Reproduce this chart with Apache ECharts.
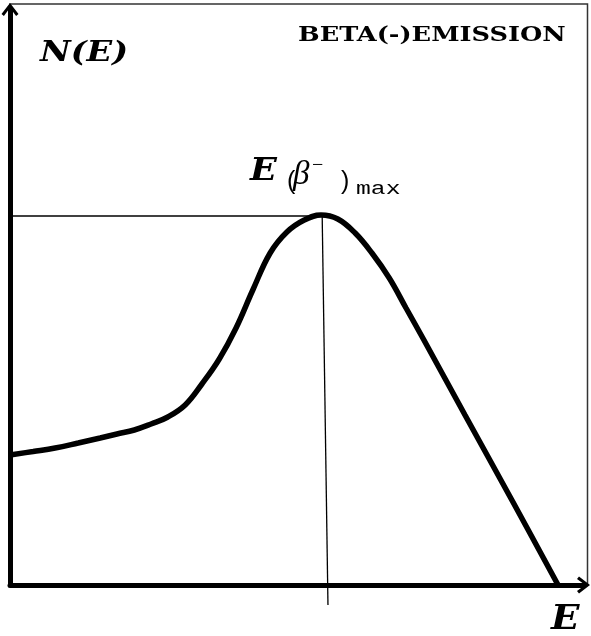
<!DOCTYPE html>
<html>
<head>
<meta charset="utf-8">
<script src="https://cdn.jsdelivr.net/npm/echarts@6/dist/echarts.min.js"></script>
<style>
  html, body { margin: 0; padding: 0; background: #fff; }
  #chart { width: 591px; height: 636px; }
</style>
</head>
<body>
<div id="chart"></div>
<script>
// beta spectrum (arbitrary units)
const energy = [0, 4.0, 7.8, 11.8, 15.6, 18.5, 21.5, 24.4, 27.3, 30.3, 33.2, 36.2, 39.1, 42.0, 45.0, 47.9, 50.9, 53.8, 56.7, 59.7, 62.6, 65.6, 68.5, 71.5, 78.7, 86.9, 94.8];
const counts = [13.0, 13.35, 13.7, 14.2, 14.7, 15.1, 15.5, 16.1, 16.8, 18.0, 20.1, 22.6, 25.7, 29.5, 33.2, 35.3, 36.5, 37.0, 36.6, 35.2, 33.2, 30.7, 27.7, 24.6, 17.0, 8.4, 0];
// guide lines to the maximum
const peakE = [54.0, 55.0];
const peakN = [36.9, -2.0];

const chart = echarts.init(document.getElementById('chart'));

// open chevron arrow head, pointing up
const chevron = 'path://M8.5,0 L17,11 L14.6,13 L8.5,4.8 L2.4,13 L0,11 Z';

function txt(x, y, text, font, sx) {
    return { type: 'text', x: x, y: y, scaleX: sx || 1, style: { text: text, font: font, fill: '#000', textVerticalAlign: 'middle' } };
}

const option = {
    animation: false,
    grid: [
        { left: 10, right: 7.5, top: 9.5, bottom: 51 },
        // thin frame round the plot
        { left: 10, right: 3.5, top: 4, bottom: 51, show: true, borderColor: '#333', borderWidth: 1.5, backgroundColor: 'transparent' }
    ],
    xAxis: [
        {
            type: 'value', min: 0, max: 99.2,
            axisLine: { lineStyle: { color: '#000', width: 5 }, symbol: ['none', chevron], symbolSize: [17, 13] },
            axisTick: { show: false }, axisLabel: { show: false }, splitLine: { show: false }
        },
        { gridIndex: 1, type: 'value', show: false }
    ],
    yAxis: [
        {
            type: 'value', min: 0, max: 57.55,
            axisLine: { show: true, lineStyle: { color: '#000', width: 5 }, symbol: ['none', chevron], symbolSize: [17, 13] },
            axisTick: { show: false }, axisLabel: { show: false }, splitLine: { show: false }
        },
        { gridIndex: 1, type: 'value', show: false }
    ],
    graphic: [
        txt(298, 36, 'BETA(-)EMISSION', 'bold 20.5px "DejaVu Serif"', 1.25),
        txt(40, 54, 'N(E)', 'italic bold 28px "DejaVu Serif"', 1.2),
        txt(551, 620, 'E', 'italic bold 34px "DejaVu Serif"', 1.1),
        txt(250, 172, 'E', 'italic bold 31.5px "DejaVu Serif"', 1.12),
        txt(287, 182, '(', '25px "Liberation Sans"'),
        txt(293, 175, 'β', 'italic 33px "Liberation Serif"'),
        txt(312, 166, '−', '20px "Liberation Serif"'),
        txt(341, 182, ')', '25px "Liberation Sans"'),
        txt(356, 189, 'max', '19px "Liberation Mono"', 1.3)
    ],
    series: [
        {
            type: 'line',
            data: energy.map((e, i) => [e, counts[i]]),
            smooth: 0.4,
            symbol: 'none',
            lineStyle: { color: '#000', width: 5.5 },
            z: 5
        },
        {
            type: 'line',
            data: [[0, peakN[0]], [peakE[0], peakN[0]]],
            symbol: 'none',
            lineStyle: { color: '#000', width: 1.5 },
            z: 3
        },
        {
            type: 'line',
            data: [[peakE[0], peakN[0]], [peakE[1], peakN[1]]],
            symbol: 'none',
            clip: false,
            lineStyle: { color: '#000', width: 1.3 },
            z: 3
        }
    ]
};
chart.setOption(option);
</script>
</body>
</html>
